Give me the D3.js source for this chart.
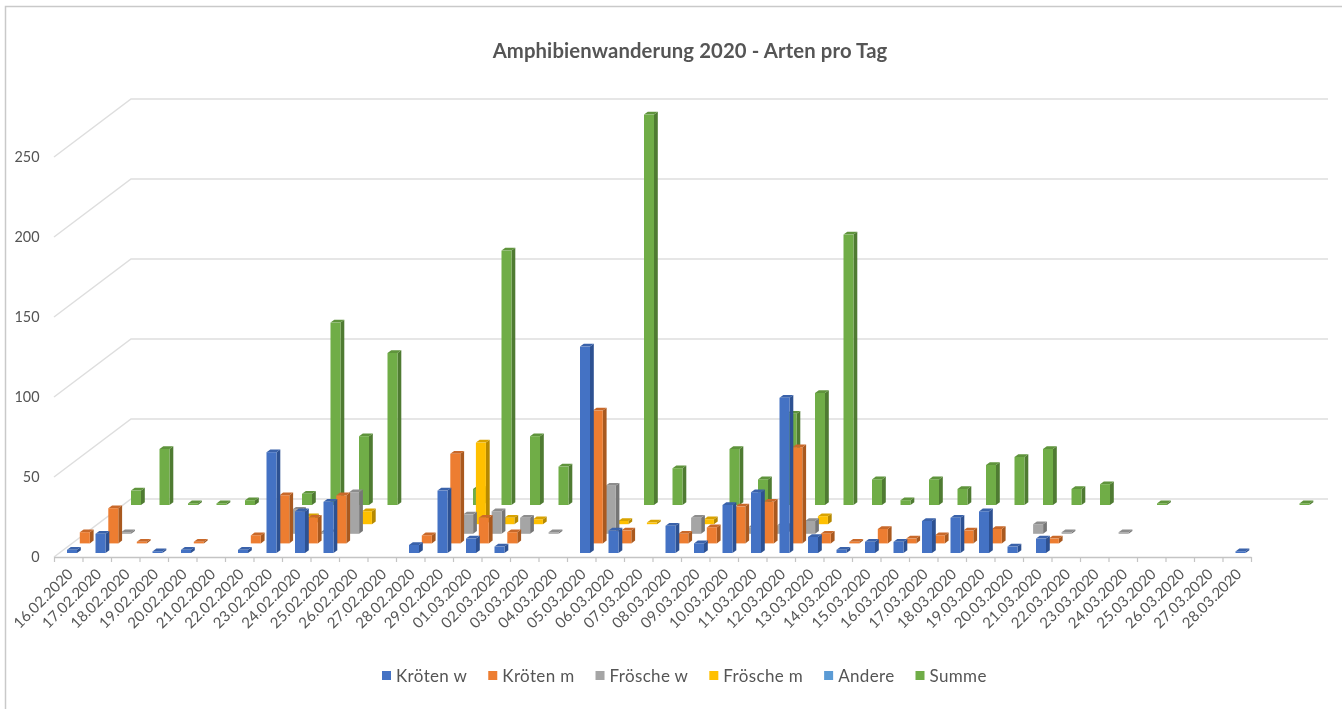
<!DOCTYPE html>
<html>
<head>
<meta charset="utf-8">
<title>Amphibienwanderung 2020</title>
<script src="https://cdn.jsdelivr.net/npm/d3@7"></script>
<style>
  html, body { margin: 0; padding: 0; background: #fff; }
  svg { display: block; filter: blur(0.5px); }
  text { font-family: Lato, "Open Sans", sans-serif; fill: #555; }
</style>
</head>
<body>
<svg id="chart" width="1342" height="709"></svg>
<script>
const titleText = 'Amphibienwanderung 2020 - Arten pro Tag';

const days = [
  '16.02.2020', '17.02.2020', '18.02.2020', '19.02.2020', '20.02.2020', '21.02.2020', '22.02.2020',
  '23.02.2020', '24.02.2020', '25.02.2020', '26.02.2020', '27.02.2020', '28.02.2020', '29.02.2020',
  '01.03.2020', '02.03.2020', '03.03.2020', '04.03.2020', '05.03.2020', '06.03.2020', '07.03.2020',
  '08.03.2020', '09.03.2020', '10.03.2020', '11.03.2020', '12.03.2020', '13.03.2020', '14.03.2020',
  '15.03.2020', '16.03.2020', '17.03.2020', '18.03.2020', '19.03.2020', '20.03.2020', '21.03.2020',
  '22.03.2020', '23.03.2020', '24.03.2020', '25.03.2020', '26.03.2020', '27.03.2020', '28.03.2020'
];

const seriesNames = ['Kröten w', 'Kröten m', 'Frösche w', 'Frösche m', 'Andere', 'Summe'];

const kroetenW = [2, 12, 0, 1, 2, 0, 2, 63, 26, 32, 0, 0, 5, 39, 9, 4, 0, 0, 129, 14, 0, 17, 6, 30, 38, 97, 10, 2, 7, 7, 20, 22, 26, 4, 9, 0, 0, 0, 0, 0, 0, 1];
const kroetenM = [7, 22, 1, 0, 1, 0, 5, 30, 16, 30, 0, 0, 5, 56, 16, 7, 0, 0, 83, 8, 0, 6, 10, 23, 26, 60, 6, 1, 9, 3, 5, 8, 9, 0, 3, 0, 0, 0, 0, 0, 0, 0];
const froescheW = [0, 1, 0, 0, 0, 0, 0, 15, 1, 26, 0, 0, 0, 12, 14, 10, 1, 0, 30, 0, 0, 10, 0, 4, 5, 8, 0, 0, 0, 0, 0, 0, 0, 6, 1, 0, 1, 0, 0, 0, 0, 0];
const froescheM = [0, 0, 0, 0, 0, 0, 0, 5, 0, 8, 0, 0, 0, 51, 4, 3, 0, 0, 2, 1, 0, 3, 0, 0, 0, 5, 0, 0, 0, 0, 0, 0, 0, 0, 0, 0, 0, 0, 0, 0, 0, 0];
const andere = days.map(() => 0);
const summe = [9, 35, 1, 1, 3, 0, 7, 114, 43, 95, 0, 0, 10, 159, 43, 24, 1, 0, 244, 23, 0, 35, 16, 57, 70, 169, 16, 3, 16, 10, 25, 30, 35, 10, 13, 0, 1, 0, 0, 0, 0, 1];

const seriesValues = [kroetenW, kroetenM, froescheW, froescheM, andere, summe];

// front, side, top
const seriesColors = [
  ['#4472c4', '#2d5192', '#3a62aa'],
  ['#ed7d31', '#a9591f', '#c9692a'],
  ['#a5a5a5', '#767676', '#8d8d8d'],
  ['#ffc000', '#b68900', '#d9a300'],
  ['#5b9bd5', '#41709a', '#4e85b6'],
  ['#70ad47', '#4f7b32', '#5f943c']
];

const yTicks = [0, 50, 100, 150, 200, 250];

const width = 1342, height = 709;
const floor = { left: 54, right: 1251, y: 557 };
const depth = { dx: 77, dy: 58 };       // oblique offset of the back wall
const barW = 10, sideW = 3.8, topH = 2.8;

const svg = d3.select('#chart');

// frame, only top and left
svg.append('path')
  .attr('d', `M5.5,${height} V6.5 H${width}`)
  .attr('fill', 'none')
  .attr('stroke', '#c9c9c9')
  .attr('stroke-width', 1.5);

svg.append('text')
  .attr('x', 690).attr('y', 57.5)
  .attr('text-anchor', 'middle')
  .attr('font-size', 20.3)
  .attr('font-weight', 700)
  .style('letter-spacing', '0.12px')
  .text(titleText);

const x = d3.scaleBand().domain(days).range([floor.left, floor.right]);
const y = d3.scaleLinear().domain([0, 250]).range([floor.y, floor.y - 400]);

// slot of each series between front edge and back wall
const layerX = d3.scaleBand().domain(seriesNames).range([13, 13 + 76.8]);
const layerY = d3.scaleBand().domain(seriesNames).range([4, 4 + 57.6]);

// grid: side wall + back wall
svg.append('g')
  .selectAll('path')
  .data(yTicks)
  .join('path')
    .attr('d', d => `M${floor.left},${y(d)} l${depth.dx},${-depth.dy} H${floor.right + depth.dx}`)
    .attr('fill', 'none')
    .attr('stroke', '#dedede')
    .attr('stroke-width', 1.5);

// bars, back row first so the front rows cover them
const rows = svg.append('g').attr('class', 'bars')
  .selectAll('g')
  .data(seriesNames.map((name, s) => ({ name, s })).reverse())
  .join('g');

rows.each(function(row) {
  const bars = seriesValues[row.s]
    .map((v, i) => ({ v, day: days[i] }))
    .filter(d => d.v > 0);
  const [front, side, top] = seriesColors[row.s];
  const bx = d => x(d.day) + layerX(row.name);
  const by = d => y(d.v) - layerY(row.name);
  const bh = d => y(0) - y(d.v);

  const g = d3.select(this).selectAll('g').data(bars).join('g');
  g.append('path')
    .attr('fill', side)
    .attr('d', d => `M${bx(d) + barW},${by(d)} l${sideW},${-topH} v${bh(d)} l${-sideW},${topH} z`);
  g.append('path')
    .attr('fill', top)
    .attr('d', d => `M${bx(d)},${by(d)} l${sideW},${-topH} h${barW} l${-sideW},${topH} z`);
  g.append('rect')
    .attr('fill', front)
    .attr('x', bx)
    .attr('y', by)
    .attr('width', barW)
    .attr('height', bh);
});

// category axis, ticks sit on the band edges
const tickScale = d3.scaleLinear().domain([0, days.length]).range([floor.left, floor.right]);
const xAxis = svg.append('g')
  .attr('transform', `translate(0,${floor.y})`)
  .call(d3.axisBottom(tickScale)
    .tickValues(d3.range(days.length + 1))
    .tickSize(5)
    .tickSizeOuter(0)
    .tickFormat(i => days[i] || ''));
xAxis.select('.domain').attr('stroke', '#c4c4c4').attr('stroke-width', 1.5);
xAxis.selectAll('.tick line').attr('stroke', '#c4c4c4').attr('stroke-width', 1.2);
xAxis.selectAll('.tick text')
  .attr('font-family', null)
  .attr('font-size', 15)
  .attr('text-anchor', 'end')
  .attr('fill', null)
  .attr('x', 0).attr('y', 0).attr('dy', 0)
  .attr('transform', 'translate(19.5,18) rotate(-45)');

// value axis labels
svg.append('g')
  .selectAll('text')
  .data(yTicks)
  .join('text')
    .attr('x', 39.5)
    .attr('y', d => y(d) + 4.5)
    .attr('text-anchor', 'end')
    .attr('font-size', 14.4)
    .text(d => d);

// legend
const legend = svg.append('g').attr('transform', 'translate(382,676)');
let legendX = 0;
seriesNames.forEach((name, s) => {
  legend.append('rect')
    .attr('x', legendX).attr('y', -5)
    .attr('width', 9).attr('height', 9)
    .attr('fill', seriesColors[s][0]);
  const label = legend.append('text')
    .attr('x', legendX + 14).attr('y', 5.5)
    .attr('font-size', 17)
    .style('letter-spacing', '0.35px')
    .text(name);
  legendX += 14 + label.node().getComputedTextLength() + 21;
});
</script>
</body>
</html>
